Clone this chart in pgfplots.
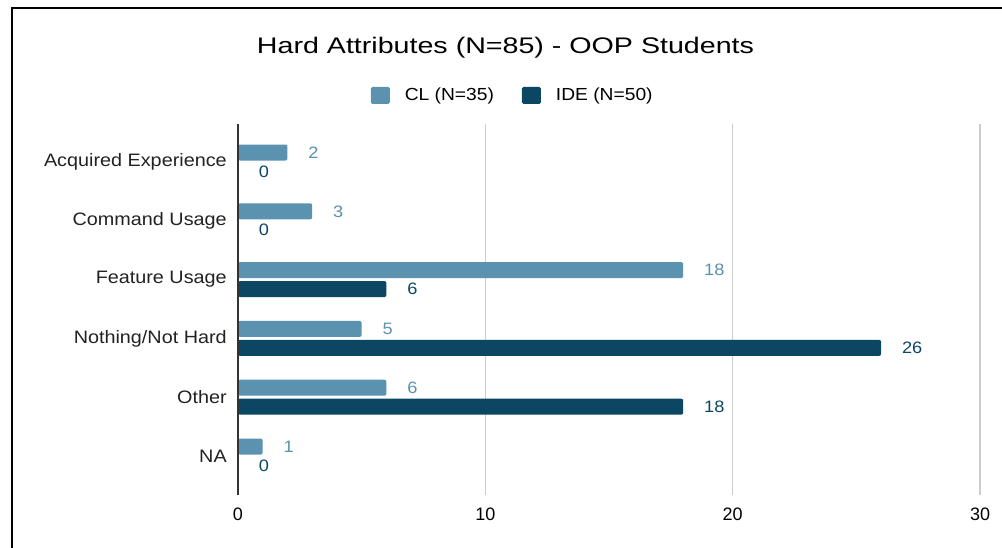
\documentclass[border=0pt]{standalone}
\usepackage{pgfplots}
\pgfplotsset{compat=1.18}
\usepackage{fontspec}
\setmainfont{Liberation Sans}[FakeStretch=1.1]
\newfontfamily\titlefont{Liberation Sans}[FakeStretch=1.27]
\newfontfamily\tickfont{Liberation Sans}
\definecolor{clblue}{HTML}{5A92AF}
\definecolor{ideblue}{HTML}{0B4763}
\definecolor{gridgray}{HTML}{CCCCCC}
\definecolor{labelgray}{HTML}{222222}

% CL and IDE counts, NA at the bottom (y = 0)
\pgfplotstableread{
y  cl  ide
0  1   0
1  6   18
2  5   26
3  18  6
4  3   0
5  2   0
}\hardattr

\begin{document}
\begin{tikzpicture}
\path[use as bounding box] (0,0) rectangle (751.5pt,411pt);
\draw[line width=1.5pt, black] (9pt,-2pt) -- (9pt,405pt) -- (753pt,405pt);
\begin{axis}[
  at={(178.5pt,39.75pt)}, anchor=south west,
  scale only axis, width=556.5pt, height=278.25pt,
  xmin=0, xmax=30, ymin=-0.663, ymax=5.646,
  clip=false,
  axis line style={draw=none},
  major tick length=0pt,
  xtick={0,10,20,30}, xticklabels={0,10,20,30},
  ytick={0,1,2,3,4,5},
  yticklabels={NA,Other,Nothing/Not Hard,Feature Usage,Command Usage,Acquired Experience},
  xmajorgrids, grid style={gridgray, line width=1.1pt},
  xticklabel style={font=\tickfont\fontsize{13.5}{16}\selectfont, text=black, anchor=north, inner sep=0pt, yshift=-9.75pt},
  yticklabel style={font=\fontsize{13.5}{16}\selectfont, text=labelgray, anchor=east, inner sep=0pt, xshift=-8.25pt},
  /pgf/number format/assume math mode=true,
  title={\titlefont\fontsize{16.9}{20}\selectfont Hard Attributes (N=85) - OOP Students},
  title style={at={(0.3605,1.1671)}, anchor=base, inner sep=0pt},
  legend columns=2,
  legend style={at={(0.179,1.077)}, anchor=west, draw=none, fill=none,
    inner sep=0pt, outer sep=0pt, font=\fontsize{13.1}{15}\selectfont,
    nodes={inner sep=0pt},
    /tikz/every even column/.append style={column sep=21pt}},
  legend image code/.code={\fill[#1, draw=none, rounded corners=1.2pt] (0pt,-6.4pt) rectangle (14.25pt,6.4pt); \path (25.5pt,0pt);},
]
\addplot[xbar, bar width=12pt, bar shift=7.1pt, fill=clblue, draw=none, rounded corners=1.5pt,
  nodes near coords,
  every node near coord/.append style={font=\fontsize{12.4}{14}\selectfont, text=clblue, anchor=west, inner sep=0pt, xshift=15.5pt, yshift=7.1pt}]
  table[x=cl, y=y] {\hardattr};
\addplot[xbar, bar width=12pt, bar shift=-7.1pt, fill=ideblue, draw=none, rounded corners=1.5pt,
  nodes near coords,
  every node near coord/.append style={font=\fontsize{12.4}{14}\selectfont, text=ideblue, anchor=west, inner sep=0pt, xshift=15.5pt, yshift=-7.1pt}]
  table[x=ide, y=y] {\hardattr};
\legend{CL (N=35), IDE (N=50)}
\draw[black!80, line width=1.1pt] (axis cs:0,-0.663) -- (axis cs:0,5.646);
\end{axis}
\end{tikzpicture}
\end{document}
